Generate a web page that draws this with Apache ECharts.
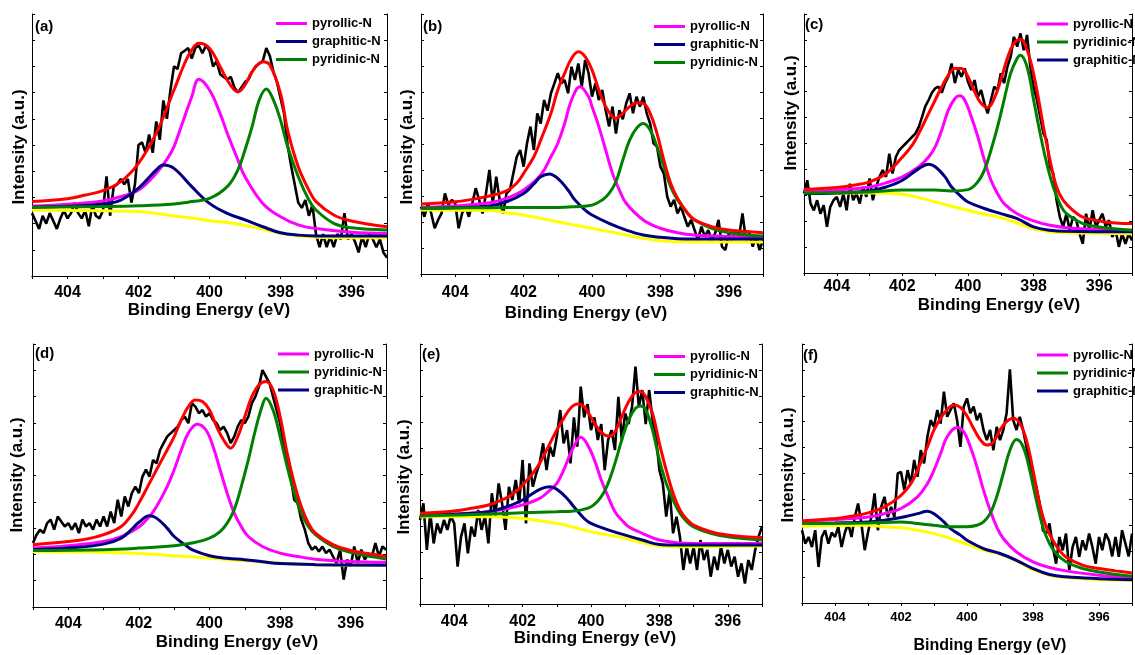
<!DOCTYPE html>
<html><head><meta charset="utf-8">
<script src="https://cdn.jsdelivr.net/npm/echarts@6/dist/echarts.min.js"></script>
<style>html,body{margin:0;padding:0;background:#fff}#c{width:1135px;height:655px}</style>
</head><body><div id="c"></div>
<script>
// ---------- DATA (intensity in % of panel height, binding energy in eV) ----------
const energy = [405,404.9,404.8,404.7,404.6,404.5,404.4,404.3,404.2,404.1,404,403.9,403.8,403.7,403.6,403.5,403.4,403.3,403.2,403.1,403,402.9,402.8,402.7,402.6,402.5,402.4,402.3,402.2,402.1,402,401.9,401.8,401.7,401.6,401.5,401.4,401.3,401.2,401.1,401,400.9,400.8,400.7,400.6,400.5,400.4,400.3,400.2,400.1,400,399.9,399.8,399.7,399.6,399.5,399.4,399.3,399.2,399.1,399,398.9,398.8,398.7,398.6,398.5,398.4,398.3,398.2,398.1,398,397.9,397.8,397.7,397.6,397.5,397.4,397.3,397.2,397.1,397,396.9,396.8,396.7,396.6,396.5,396.4,396.3,396.2,396.1,396,395.9,395.8,395.7,395.6,395.5,395.4,395.3,395.2,395.1,395];
const xTickLabels = [404, 402, 400, 398, 396];

// panel (a)
const rawA = [24,21,18,23,20,24,21,18,22,25, 22,24,28,24,22,25,19,27,23,22, 25,38,23,34,35,37,35,37,28,35, 50,51,47,54,47,59,52,67,60,71, 80,79,85,86,87,83,87,88,85,88, 86,80,82,77,76,75,76,72,70,72, 74,75,78,80,81,82,87,84,78,74, 68,62,50,42,35,28,26,29,23,27, 16,11,16,11,15,11,16,14,24,14, 16,13,9,15,11,16,14,11,14,9,7];
const bgA = [[405,25.2],[403,24.9],[402,24.6],[401.5,23.9],[401,22.9],[400.5,22.1],[400,21.1],[399.5,20.4],[399,19.3],[398.5,17.8],[398,16.3],[397.5,15.3],[397,14.8],[396,14.6],[395,14.6]];
const pyrrolicA = [[405,26.7],[404,27.4],[403,28.6],[402.5,30.3],[402,32.8],[401.5,39.2],[401.2,44.5],[401,49.4],[400.8,57],[400.5,68.4],[400.3,75.1],[400,71],[399.7,62],[399.5,54.5],[399.2,44.3],[399,37.9],[398.5,27.7],[398,22.6],[397.5,19.5],[397,18.1],[396,16.7],[395,16.3]];
const graphiticA = [[405,26.2],[404,26.6],[403,27.5],[402.5,29],[402,33.5],[401.5,40.5],[401.3,42.4],[401,41.1],[400.5,34.1],[400,27.7],[399.5,23.9],[399,21.4],[398.5,18.8],[398,16.5],[397.5,15.6],[397,15.3],[395,15.3]];
const pyridinicA = [[405,26.2],[403,26.5],[402,26.8],[401,27.5],[400.5,28.4],[400,29.6],[399.5,34.1],[399.2,40.5],[399,48.1],[398.8,57],[398.6,67.2],[398.4,71.4],[398.2,67.2],[398,59.5],[397.8,49.4],[397.5,37.9],[397.2,29],[397,25.2],[396.5,20.1],[396,18.4],[395,17.6]];
const envelopeA = [[405,28.4],[404,29.5],[403.5,30.9],[403,32.6],[402.5,36],[402,43],[401.5,54.5],[401,71],[400.7,81.2],[400.5,86.3],[400.3,88.8],[400,86.9],[399.7,79.9],[399.5,74.8],[399.3,71],[399.2,70.4],[399,72.9],[398.8,78],[398.5,81.8],[398.3,80.5],[398,69.7],[397.8,55.7],[397.5,41.7],[397.2,32.8],[397,28.4],[396.5,23.3],[396,21],[395,18.8]];

// panel (b)
const rawB = [25.9,22,27.2,23.3,17.6,20.8,23.3,31,26.5,28.5, 27.2,17.6,23.3,25.9,22,27.2,33,28.5,23.3,31, 40,27.2,37.4,28.5,23.3,31,32.3,38.7,45.1,47.7, 41.3,50.3,56.7,47.7,61.8,57.9,66.9,62.8,69.5,73.3, 77.2,73.3,74.6,69.5,79.7,74.6,81,72,82.3,77.2, 68.2,73.3,66.9,70.8,63,56.7,64.4,54,63,59.5, 65.6,69.5,61.8,68.2,64.4,68.2,61.8,57.9,50.3,49, 41.3,38.7,29.7,25.9,28.5,23.3,25.9,22,18.2,20.8, 16.9,13.1,18.2,14.4,16.9,13.1,15.6,20.8,10.5,9.2, 15.6,13.1,16.9,14.4,23.3,13.1,15.6,10.5,14.4,9.2,13.1];
const bgB = [[405,24.6],[403,24.4],[402.5,23.6],[402,22.7],[401.5,21.4],[401,20.1],[400.5,18.8],[400,17.6],[399.5,16.3],[399,15],[398.5,13.7],[398,12.8],[397.5,12.4],[397,12.3],[395,12.3]];
const pyrrolicB = [[405,25.6],[404,26.2],[403,27.4],[402.5,29.1],[402,32.3],[401.5,38.1],[401.2,45.1],[401,50.3],[400.8,57.9],[400.6,66.9],[400.35,72],[400.1,68.2],[400,64.4],[399.8,56.7],[399.6,47.7],[399.4,38.7],[399.2,32.3],[399,27.2],[398.5,20.8],[398,17.6],[397.5,15.9],[397,15],[396,14.4],[395,14.1]];
const graphiticB = [[405,25.3],[404,25.5],[403,26.2],[402.5,27.8],[402,31],[401.7,34.6],[401.5,37.4],[401.25,38.5],[401,36.8],[400.7,32.3],[400.5,28.5],[400.2,24.6],[400,22.7],[399.5,19.5],[399,16.9],[398.5,15],[398,14.1],[397.5,13.6],[397,13.5],[395,13.5]];
const pyridinicB = [[405,25.3],[403,25.5],[402,25.6],[401,25.6],[400.5,25.9],[400,26.5],[399.7,28.5],[399.5,31],[399.3,35.5],[399.1,43.8],[398.9,51.5],[398.7,56],[398.5,57.9],[398.3,55.4],[398.1,49],[397.9,41.3],[397.7,33.6],[397.5,28.5],[397.2,23.3],[397,20.8],[396.5,17.6],[396,15.9],[395,14.6]];
const envelopeB = [[405,26.9],[404,27.8],[403.5,28.7],[403,30],[402.5,32],[402.2,34.9],[402,38.7],[401.7,45.1],[401.5,51.5],[401.2,61.8],[401,70.8],[400.8,77.2],[400.6,82.9],[400.4,85.5],[400.2,83.6],[400,78.5],[399.8,70.8],[399.6,64.4],[399.4,60.5],[399.3,59.9],[399.1,61.8],[398.9,64.4],[398.7,65.9],[398.5,65.6],[398.3,61.8],[398.1,54.1],[397.9,43.8],[397.7,34.9],[397.5,29.1],[397.2,23.3],[397,20.8],[396.5,18.2],[396,16.9],[395.5,16.3],[395,15.9]];

// panel (c)
const rawC = [30.7,35.8,26.8,24.2,28.1,22.9,26.2,17.8,25.5,28.1, 29.4,25.5,30.7,24.2,34.5,28.1,30.7,26.8,33.2,29.4, 36.5,28.1,33.2,37.1,39.7,37.1,46.1,38.4,44.8,47.4, 48.7,50,51.3,52.6,53.9,56.4,60.3,64.4,66.8,69.6, 71.3,72,69.6,73.3,75.8,80.9,73.3,78.4,75.8,79, 73.8,70.6,74.5,68,70.6,65.5,61.6,66.8,71.9,70.6, 77.1,73.3,79.6,83.5,91.2,87.4,92.5,86,91.9,79.6, 71.9,66.8,60.3,53.9,51.3,41,38.4,28.1,21.6,17.8, 22.9,16.5,21.6,20.4,15.2,11.3,22.9,16.5,24.2,17.8, 20.4,22.9,17.8,20.4,13.9,16.5,10.1,15.2,11.3,15.2,12.6];
const bgC = [[405,30.7],[403,30.9],[402,30.4],[401.5,29.1],[401,27.4],[400.5,25.8],[400,24.2],[399.5,22.7],[399,21.4],[398.5,19.3],[398,17.1],[397.5,15.9],[397,15.5],[395,15.2]];
const pyrrolicC = [[405,31.3],[404,32],[403,33.2],[402.5,34.8],[402,37.1],[401.5,41],[401.2,44.8],[401,48.7],[400.8,55.2],[400.6,62.9],[400.4,67.4],[400.25,68.4],[400.1,66.8],[399.9,60.3],[399.7,52.6],[399.5,43.6],[399.3,35.8],[399.1,30.7],[398.9,26.8],[398.5,22.9],[398,20.1],[397.5,18.4],[397,17.5],[396,16.8],[395,16.5]];
const graphiticC = [[405,30.7],[404,30.9],[403,31.7],[402.5,33.2],[402,35.8],[401.5,40.3],[401.2,42],[401,41],[400.7,37.1],[400.5,33.2],[400.2,29.4],[400,27.4],[399.5,24.9],[399,22.9],[398.5,21],[398,17.8],[397.5,16.5],[397,16.1],[395,15.9]];
const pyridinicC = [[405,30.9],[403,31.3],[402,32],[401,32],[400.5,31.7],[400,32.2],[399.7,35.2],[399.5,39.7],[399.3,47.4],[399.1,56.4],[398.9,66.8],[398.7,77.1],[398.5,82.9],[398.4,84.1],[398.2,79.6],[398,66.8],[397.8,53.9],[397.6,42.3],[397.4,33.2],[397.2,26.8],[397,22.9],[396.5,19.1],[396,17.8],[395,16.5]];
const envelopeC = [[405,32.2],[404,33],[403.5,33.9],[403,35.2],[402.5,38.4],[402,44.8],[401.7,49.4],[401.5,53.9],[401.2,61.6],[401,66.8],[400.8,71.9],[400.6,76.4],[400.4,79],[400.2,79],[400,75.8],[399.8,70],[399.6,65.5],[399.4,63.9],[399.2,67.4],[399,74.5],[398.8,82.9],[398.6,88.7],[398.4,90.2],[398.3,89.3],[398.1,82.2],[397.9,70.6],[397.7,56.4],[397.5,43.6],[397.3,33.2],[397.1,28.1],[396.8,24.2],[396.5,21.6],[396,20.1],[395.5,19.3],[395,19.1]];

// panel (d)
const rawD = [24.3,27.5,29.4,28.1,31.9,33.2,29.4,34.4,32.5,30.6, 31.9,29.4,31.9,28.1,33.2,30.6,31.9,29.4,33.2,30.6, 34.4,30.6,36.3,31.9,40.8,34.4,42,38.2,43.3,45.8, 43.3,49.6,52.2,49.6,55.9,54.6,59.7,62.3,64.8,66.1, 67.3,68.6,71.1,72.4,69.9,77.5,76.2,73.7,74.9,72.4, 73.7,71.1,69.9,67.3,68.6,66.1,62.3,64.8,68.6,71.1, 69.9,72.4,77.5,80,83.8,90.1,87.6,85.1,80,74.9, 69.9,62.3,54.6,49.6,40.8,39.5,33.2,29.4,24.3,21.8, 23,21.1,23,20.5,21.8,19.2,16.7,21.8,10.4,18, 15.4,23,16.7,21.8,18,20.5,19.2,24.3,19.2,23,21.8];
const bgD = [[405,21.1],[403,20.8],[402,20.3],[401,19.5],[400,18.6],[399,17.6],[398,16.7],[397,16.1],[395,15.9]];
const pyrrolicD = [[405,22.4],[404,23.3],[403,24.9],[402.5,26.8],[402,30.4],[401.7,34.4],[401.5,38.2],[401.2,45.8],[401,52.2],[400.8,59.7],[400.6,66.1],[400.35,69.5],[400.1,67.3],[399.9,61],[399.7,52.2],[399.5,43.3],[399.3,35.7],[399.1,30.6],[398.9,26.8],[398.5,23],[398,20.5],[397.5,19.2],[397,18.2],[396,17.3],[395,17]];
const graphiticD = [[405,21.8],[404,22.4],[403,23.9],[402.5,26.2],[402.2,29.6],[402,32.2],[401.7,34.7],[401.5,33.8],[401.2,30],[401,26.8],[400.7,23.7],[400.5,21.8],[400,19.5],[399.5,18.5],[399,18],[398.5,17.2],[398,16.5],[397,16.1],[395,15.9]];
const pyridinicD = [[405,21.5],[403,21.8],[402,22.4],[401,23.3],[400.5,24.3],[400,26.2],[399.7,28.7],[399.5,31.9],[399.3,37],[399.1,45.8],[398.9,55.9],[398.7,67.3],[398.5,76.8],[398.4,79.4],[398.2,74.9],[398,64.8],[397.8,53.4],[397.6,43.3],[397.4,35.7],[397.2,30.6],[397,27.5],[396.5,23],[396,20.8],[395,18.2]];
const envelopeD = [[405,23.7],[404,24.9],[403.5,25.8],[403,27.5],[402.5,30.6],[402.2,35.1],[402,39.5],[401.7,47.1],[401.5,52.2],[401.2,59.7],[401,64.8],[400.8,71.1],[400.6,76.2],[400.4,78.7],[400.2,78.1],[400,74.9],[399.8,68.6],[399.6,63.5],[399.4,60.4],[399.2,64.8],[399,72.4],[398.8,80],[398.6,84.4],[398.4,85.7],[398.2,82.5],[398,72.4],[397.8,58.5],[397.6,47.1],[397.4,38.2],[397.2,31.9],[397,28.1],[396.5,23.7],[396,21.5],[395.5,20.3],[395,19.2]];

// panel (e)
const rawE = [32.3,38.7,20.8,34.9,23.3,31,27.2,32.3,28.5,33.8, 31,14.4,25.9,31,19.5,29.7,25.9,36.2,28.5,33.8, 23.3,42.6,33.8,46.4,38.7,28.5,45.1,40,47.7,38.7, 55.4,31,54.1,45.1,50.3,54.1,61.8,51.5,60.5,56.7, 64.4,74.6,61.8,66.9,54.1,71.8,60.5,83.6,71.8,76.9, 66.9,71.8,63.1,69.2,51.5,63.1,66.9,59.2,79.7,63.1, 73.3,69.2,75.9,91.3,75.9,82.3,69.2,82.3,70.8,64.4, 51.5,46.4,33.6,43.6,27.2,33.6,25.9,13.1,22,15.6, 22,13.1,24.6,16.9,20.8,10.5,18.2,13.1,22,15.6, 20.8,14.4,18.2,10.5,15.6,7.9,16.9,13.1,20.8,25.9,29.7];
const bgE = [[405,33.6],[403,33.6],[402,32.9],[401.5,32],[401,31],[400.5,29.5],[400,27.8],[399.5,26.5],[399,25.3],[398.5,23.6],[398,22.3],[397.5,22],[395,22.3]];
const pyrrolicE = [[405,34.2],[404,34.6],[403,35.5],[402.5,36.5],[402,38.1],[401.5,40.6],[401.2,43.8],[401,46.4],[400.8,51.5],[400.6,57.9],[400.4,63.1],[400.3,64.1],[400.1,61.2],[399.9,55.4],[399.7,47.7],[399.5,41.3],[399.3,35.5],[399.1,32.3],[398.9,29.7],[398.5,27.2],[398,24.6],[397.5,23.6],[397,23.3],[395,23.3]];
const graphiticE = [[405,34.2],[404,34.5],[403,35.5],[402.5,37.2],[402,40],[401.5,44.1],[401.2,45.1],[401,44.1],[400.7,40.6],[400.5,37.4],[400.2,32.9],[400,31],[399.5,28.5],[399,26.5],[398.5,24.6],[398,22.9],[397.5,22.7],[395,22.7]];
const pyridinicE = [[405,33.8],[403,34.6],[402,35.1],[401,35.5],[400.5,35.8],[400,37.4],[399.7,41.3],[399.5,46.4],[399.3,54.1],[399.1,63.1],[398.9,70.8],[398.7,75.3],[398.55,76.2],[398.4,74.6],[398.2,66.9],[398,55.4],[397.8,46.4],[397.6,40],[397.4,34.9],[397.2,31.7],[397,29.7],[396.5,27.2],[396,25.9],[395,24.6]];
const envelopeE = [[405,34.9],[404,35.8],[403.5,36.8],[403,38.1],[402.5,40.6],[402.2,43.2],[402,45.8],[401.7,50.3],[401.5,54.1],[401.2,61.8],[401,66.9],[400.8,71.4],[400.6,75.3],[400.4,76.9],[400.2,75.9],[400,71.8],[399.8,67.6],[399.6,65],[399.45,64.6],[399.3,66.3],[399.1,72.1],[398.9,77.8],[398.7,81.3],[398.55,81.7],[398.4,79.7],[398.2,73.3],[398,61.8],[397.8,51.5],[397.6,42.6],[397.4,36.2],[397.2,32.6],[397,30.4],[396.5,27.8],[396,26.5],[395.5,25.9],[395,25.6]];

// panel (f)
const rawF = [28.1,22.9,25.5,21.6,28.1,13.9,25.5,28.1,22.9,27.2, 25.5,29.4,21.6,27.2,30.7,25.5,33.2,38.4,30.7,20.4, 27.2,33.2,42.3,28.1,37.1,41,33.2,37.1,33.2,50, 50.6,43.6,51.3,46.1,55.2,48.7,59,53.9,64.2,70.6, 68,74.5,69.3,81.6,71.9,74.5,77.1,70.6,60.3,75.8, 79,73.3,75.8,70.6,73.3,66.8,62.9,66.8,59,68, 62.9,66.8,73.3,90.2,70.6,66.8,71.9,66.8,60.3,53.9, 48.7,45,38.4,28.1,26.8,30.7,21.6,15.2,25.5,20.4, 26.8,12.6,21.6,25.5,17.8,24.2,20.4,26.8,21.6,15.2, 25.5,20.4,26.8,24.2,18,25.5,17.8,28.1,22.9,18,26.8];
const bgF = [[405,29.6],[403,30],[402.5,29.4],[402,29.1],[401.5,28.1],[401,26.8],[400.5,24.9],[400,22.7],[399.5,20.4],[399,18.8],[398.5,16.2],[398,12.9],[397.5,10.7],[397,9.8],[396,9],[395,8.8]];
const pyrrolicF = [[405,31.7],[404,32.2],[403,33.2],[402.5,34.5],[402,36.5],[401.5,41],[401.2,46.1],[401,51.3],[400.8,57.7],[400.6,64.2],[400.3,67.8],[400.1,66.2],[399.9,60.3],[399.7,52.6],[399.5,43.6],[399.3,35.8],[399.1,29.4],[398.9,24.9],[398.5,19.7],[398,15.9],[397.5,13.7],[397,12.4],[396,10.7],[395,9.8]];
const graphiticF = [[405,30.7],[404,30.9],[403,31.3],[402.5,32],[402,33],[401.5,34.5],[401.2,35.4],[401,34.5],[400.7,31.3],[400.5,28.7],[400.2,26.2],[400,24.2],[399.5,21],[399,19.1],[398.5,16.5],[398,13.3],[397.5,11],[397,10.1],[396,9.4],[395,9]];
const pyridinicF = [[405,30.7],[403,30.9],[402,31.3],[401.5,30.7],[401,30],[400.5,29.4],[400,29.4],[399.7,30],[399.5,31.3],[399.3,34.5],[399.1,41],[398.9,50],[398.7,59],[398.5,63.1],[398.3,60.3],[398.1,51.3],[397.9,39.7],[397.7,29.4],[397.5,22.9],[397.3,19.1],[397,15.9],[396.5,13.3],[396,12],[395,10.3]];
const envelopeF = [[405,31.7],[404,32.6],[403.5,33.5],[403,34.8],[402.5,37.1],[402,41.6],[401.7,46.1],[401.5,51.3],[401.2,60.3],[401,66.8],[400.8,71.3],[400.6,74.7],[400.4,76.4],[400.2,75.5],[400,72.2],[399.8,67.4],[399.6,63.1],[399.4,61],[399.2,62.2],[399,66.8],[398.8,70],[398.6,71.3],[398.4,69.4],[398.2,62.9],[398,51.3],[397.8,38.4],[397.6,29.4],[397.4,24.2],[397.2,20.4],[397,17.8],[396.5,14.6],[396,13.3],[395.5,12.4],[395,11.6]];

const panelLetters = ['(a)','(b)','(c)','(d)','(e)','(f)'];
const legendOrder1 = ['pyrollic-N','graphitic-N','pyridinic-N'];
const legendOrder2 = ['pyrollic-N','pyridinic-N','graphitic-N'];
const xTitle = 'Binding Energy (eV)';
const yTitle = 'Intensity (a.u.)';

// ---------- LAYOUT / STYLE ----------
const FONT = "'Liberation Sans', Arial, Helvetica, sans-serif";
const COL = {raw:'#000000', bg:'#FFFF00', pyr:'#FF00FF', gra:'#000080', pyd:'#008000', env:'#FF0000'};
const panels = [
  {raw:rawA,bg:bgA,pyr:pyrrolicA,gra:graphiticA,pyd:pyridinicA,env:envelopeA,legend:legendOrder1,
   grid:{left:32,top:14,width:355,height:262}, lab:16, margin:9, lg:{left:276,top:17}, letter:[35,27], xt:[209,310,17], yt:[19,147]},
  {raw:rawB,bg:bgB,pyr:pyrrolicB,gra:graphiticB,pyd:pyridinicB,env:envelopeB,legend:legendOrder1,
   grid:{left:421,top:14,width:342,height:260}, lab:16, margin:11, lg:{left:654,top:20}, letter:[423,27], xt:[586,313,17], yt:[407,147]},
  {raw:rawC,bg:bgC,pyr:pyrrolicC,gra:graphiticC,pyd:pyridinicC,env:envelopeC,legend:legendOrder2,
   grid:{left:804,top:14,width:338,height:259}, lab:16, margin:6, lg:{left:1037,top:17.5}, letter:[805,25], xt:[999,305,17], yt:[791,113]},
  {raw:rawD,bg:bgD,pyr:pyrrolicD,gra:graphiticD,pyd:pyridinicD,env:envelopeD,legend:legendOrder2,
   grid:{left:33,top:344,width:353,height:263}, lab:16, margin:9, lg:{left:278,top:347.5}, letter:[35,354], xt:[237,642,17], yt:[17,475]},
  {raw:rawE,bg:bgE,pyr:pyrrolicE,gra:graphiticE,pyd:pyridinicE,env:envelopeE,legend:legendOrder2,
   grid:{left:420,top:344,width:342,height:260}, lab:16, margin:10, lg:{left:654,top:350}, letter:[422,355], xt:[595,638,17], yt:[404,477]},
  {raw:rawF,bg:bgF,pyr:pyrrolicF,gra:graphiticF,pyd:pyridinicF,env:envelopeF,legend:legendOrder2,
   grid:{left:802,top:344,width:341,height:259}, lab:13, margin:8, lg:{left:1037,top:348.5}, letter:[803,356], xt:[990,646,16], yt:[788,465]}
];

const grids = [], xAxes = [], yAxes = [], series = [], legends = [], graphics = [];
const axLine = {show:true, lineStyle:{color:'#000', width:1}};
panels.forEach((p, i) => {
  grids.push(Object.assign({containLabel:false}, p.grid));
  xAxes.push({type:'value', gridIndex:i, position:'bottom', min:395, max:405, interval:1, inverse:true,
    axisLine:axLine, axisTick:{show:true, inside:false, length:3, lineStyle:{color:'#000'}},
    axisLabel:{show:true, margin:p.margin, color:'#000', fontFamily:FONT, fontWeight:'bold', fontSize:p.lab,
      formatter: v => (xTickLabels.indexOf(Math.round(v)) >= 0 ? String(Math.round(v)) : '')},
    splitLine:{show:false}});
  xAxes.push({type:'value', gridIndex:i, position:'top', min:395, max:405, interval:1, inverse:true,
    axisLine:axLine, axisTick:{show:true, inside:true, length:3, lineStyle:{color:'#000'}},
    axisLabel:{show:false}, splitLine:{show:false}});
  yAxes.push({type:'value', gridIndex:i, position:'left', min:0, max:100, interval:10,
    axisLine:axLine, axisTick:{show:true, inside:true, length:3, lineStyle:{color:'#000'}},
    axisLabel:{show:false}, splitLine:{show:false}});
  yAxes.push({type:'value', gridIndex:i, position:'right', min:0, max:100, interval:10,
    axisLine:axLine, axisTick:{show:true, inside:true, length:3, lineStyle:{color:'#000'}},
    axisLabel:{show:false}, splitLine:{show:false}});
  const xi = 2*i, yi = 2*i;
  const mk = (name, data, color, width, smooth, z) => ({
    type:'line', name:name, xAxisIndex:xi, yAxisIndex:yi, data:data, showSymbol:false, symbol:'none',
    smooth:smooth, color:color, itemStyle:{color:color}, lineStyle:{color:color, width:width}, z:z, silent:true, animation:false
  });
  series.push(mk('raw', energy.map((e, k) => [e, p.raw[k]]), COL.raw, 2.6, false, 2));
  series.push(mk('background', p.bg, COL.bg, 3, 0.4, 3));
  series.push(mk('pyrollic-N', p.pyr, COL.pyr, 3, 0.4, 4));
  series.push(mk('graphitic-N', p.gra, COL.gra, 3, 0.4, 5));
  series.push(mk('pyridinic-N', p.pyd, COL.pyd, 3, 0.4, 6));
  series.push(mk('envelope', p.env, COL.env, 3, 0.4, 7));
  legends.push({orient:'vertical', left:p.lg.left, top:p.lg.top, padding:0, itemGap:5, itemWidth:31, itemHeight:3,
    selectedMode:false, icon:'rect', data:p.legend,
    textStyle:{color:'#000', fontFamily:FONT, fontWeight:'bold', fontSize:13, lineHeight:13}});
  graphics.push({type:'text', x:p.letter[0], y:p.letter[1], z:100,
    style:{text:panelLetters[i], fill:'#000', font:'bold 15px ' + FONT, align:'left', verticalAlign:'middle', textAlign:'left', textVerticalAlign:'middle'}});
  graphics.push({type:'text', x:p.xt[0], y:p.xt[1], z:100,
    style:{text:xTitle, fill:'#000', font:'bold ' + p.xt[2] + 'px ' + FONT, align:'center', verticalAlign:'middle', textAlign:'center', textVerticalAlign:'middle'}});
  graphics.push({type:'text', x:p.yt[0], y:p.yt[1], rotation:Math.PI/2, z:100,
    style:{text:yTitle, fill:'#000', font:'bold 17px ' + FONT, align:'center', verticalAlign:'middle', textAlign:'center', textVerticalAlign:'middle'}});
});

const chart = echarts.init(document.getElementById('c'), null, {renderer:'canvas'});
chart.setOption({
  animation:false, backgroundColor:'#fff',
  grid:grids, xAxis:xAxes, yAxis:yAxes, series:series, legend:legends, graphic:graphics
});
</script></body></html>
